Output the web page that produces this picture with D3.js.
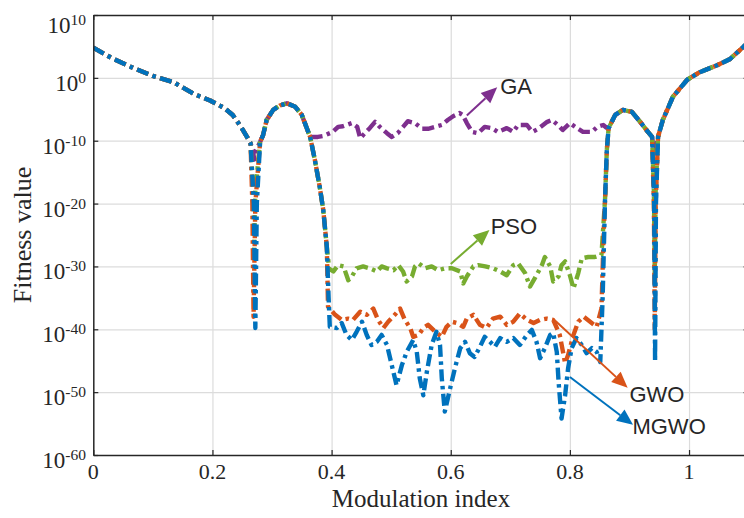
<!DOCTYPE html>
<html>
<head>
<meta charset="utf-8">
<script src="https://cdn.jsdelivr.net/npm/d3@7"></script>
<style>
  body { margin: 0; background: #fff; }
  svg { display: block; }
</style>
</head>
<body>
<svg id="chart" width="744" height="518"></svg>
<script>
// ---- axis ticks ----
const xTicks = [0, 0.2, 0.4, 0.6, 0.8, 1];
const xTickLabels = ["0", "0.2", "0.4", "0.6", "0.8", "1"];
const yTickExponents = [10, 0, -10, -20, -30, -40, -50, -60];

// ---- curve segments: [modulation index, log10(fitness value)] ----
// shared by every algorithm
const envelopeStart = [[0, 4.8], [0.03, 3.2], [0.067, 1.57], [0.1, 0.3], [0.134, -0.66], [0.17, -2.6],
  [0.196, -3.6], [0.22, -4.8], [0.234, -5.9], [0.248, -7.8], [0.258, -9.4], [0.264, -10.4]];
const lobe1 = [[0.280, -10.2], [0.285, -9.1], [0.291, -6.7], [0.302, -5.1], [0.313, -4.4], [0.325, -4.05],
  [0.339, -4.6], [0.350, -5.9], [0.364, -9.4]];
const wallLeft = [[0.372, -13.1], [0.380, -17.3], [0.386, -21.0], [0.392, -26.9]];
const wallRight = [[0.859, -19.4], [0.862, -11.5]];
const lobe2 = [[0.865, -8.0], [0.876, -5.9], [0.889, -5.1], [0.904, -5.4], [0.918, -7.0], [0.931, -8.6], [0.938, -9.4]];
const tail = [[0.948, -9.4], [0.956, -6.7], [0.973, -3.0], [0.997, -0.3], [1.018, 0.9], [1.047, 2.0],
  [1.069, 3.0], [1.092, 5.0], [1.1, 5.7]];

// GA
const gaNull1 = [[0.268, -11.5], [0.270, -13], [0.273, -11.5]];
const gaMid = [[0.377, -9.4], [0.386, -9.25], [0.402, -8.6], [0.411, -7.8], [0.419, -7.7], [0.434, -7.2],
  [0.443, -7.8], [0.448, -9.6], [0.456, -8.8], [0.464, -8.0], [0.473, -7.0], [0.481, -7.8], [0.493, -8.8],
  [0.501, -9.4], [0.511, -8.8], [0.520, -7.8], [0.528, -6.9], [0.540, -7.2], [0.552, -8.1], [0.562, -8.1],
  [0.574, -7.8], [0.585, -7.5], [0.595, -6.7], [0.604, -6.1], [0.615, -5.6], [0.620, -5.9], [0.627, -7.2],
  [0.636, -8.6], [0.646, -8.8], [0.657, -7.8], [0.669, -8.0], [0.679, -8.6], [0.694, -8.0], [0.705, -8.6],
  [0.713, -7.5], [0.728, -7.5], [0.737, -8.6], [0.747, -8.1], [0.762, -7.0], [0.770, -6.7], [0.780, -7.5],
  [0.788, -8.3], [0.800, -7.2], [0.812, -8.0], [0.822, -8.6], [0.837, -8.6], [0.846, -7.8], [0.856, -7.5],
  [0.861, -7.9]];
const gaNull2 = [[0.940, -11], [0.9425, -12.5], [0.945, -11]];

// PSO
const psoNull1 = [[0.268, -18], [0.270, -28], [0.272, -18]];
const psoMid = [[0.396, -30.4], [0.403, -30.8], [0.411, -29.8], [0.420, -30.0], [0.428, -32.2], [0.434, -31.6],
  [0.442, -30.3], [0.453, -30.0], [0.464, -30.3], [0.476, -30.8], [0.484, -30.0], [0.493, -30.3], [0.504, -30.6],
  [0.512, -29.8], [0.520, -30.8], [0.526, -32.4], [0.535, -31.6], [0.540, -30.0], [0.546, -29.5], [0.557, -30.3],
  [0.568, -30.0], [0.579, -30.6], [0.590, -30.3], [0.602, -30.3], [0.616, -30.8], [0.621, -32.7], [0.627, -31.6],
  [0.638, -30.0], [0.646, -29.8], [0.658, -30.0], [0.671, -30.3], [0.683, -30.8], [0.694, -31.4], [0.705, -29.8],
  [0.713, -29.5], [0.725, -31.1], [0.733, -33.2], [0.741, -31.9], [0.753, -29.8], [0.758, -28.5], [0.767, -30.0],
  [0.772, -32.4], [0.781, -31.6], [0.786, -29.8], [0.792, -29.2], [0.800, -31.4], [0.806, -33.5], [0.814, -31.1],
  [0.820, -28.7], [0.831, -28.5], [0.842, -28.5], [0.853, -28.2]];
const psoNull2 = [[0.941, -18], [0.9425, -31], [0.944, -18]];

// GWO
const gwoNull1 = [[0.267, -20], [0.269, -38], [0.272, -20]];
const gwoMid = [[0.394, -36.4], [0.406, -37.7], [0.417, -38.5], [0.428, -38.3], [0.436, -38.5], [0.448, -37.2],
  [0.459, -37.7], [0.470, -36.7], [0.478, -38.5], [0.487, -39.8], [0.495, -38.8], [0.506, -37.7], [0.515, -36.7],
  [0.523, -38.5], [0.532, -39.8], [0.537, -41.2], [0.546, -40.9], [0.554, -39.8], [0.562, -39.3], [0.574, -40.4],
  [0.585, -41.2], [0.593, -39.6], [0.602, -38.8], [0.610, -39.0], [0.621, -39.6], [0.627, -38.3], [0.638, -37.7],
  [0.649, -39.3], [0.660, -39.8], [0.671, -38.3], [0.683, -38.0], [0.694, -39.3], [0.705, -38.8], [0.716, -37.5],
  [0.728, -38.5], [0.739, -39.0], [0.750, -38.5], [0.761, -38.3], [0.772, -38.5], [0.783, -40.9], [0.792, -45.4],
  [0.797, -44.1], [0.806, -40.9], [0.814, -38.8], [0.823, -38.0], [0.834, -38.8], [0.845, -39.6], [0.853, -36.7],
  [0.857, -24]];
const gwoNull2 = [[0.941, -20], [0.9425, -40], [0.944, -20]];

// MGWO
const mgwoNull1 = [[0.2695, -20], [0.272, -39.8], [0.2745, -20]];
const mgwoMid = [[0.395, -35], [0.397, -39.6], [0.409, -39.8], [0.417, -39.0], [0.425, -40.9], [0.434, -41.7],
  [0.442, -40.4], [0.451, -38.8], [0.459, -40.9], [0.467, -42.5], [0.476, -42.0], [0.484, -40.9], [0.493, -42.5],
  [0.501, -45.7], [0.509, -48.9], [0.518, -45.7], [0.526, -43.6], [0.537, -41.7], [0.543, -43.6], [0.548, -47.8],
  [0.554, -50.5], [0.560, -46.7], [0.568, -42.5], [0.576, -40.4], [0.582, -42.5], [0.585, -47.8], [0.590, -53.1],
  [0.599, -49.4], [0.607, -46.2], [0.616, -43.0], [0.624, -42.0], [0.632, -43.8], [0.640, -44.4], [0.649, -42.8],
  [0.657, -41.2], [0.666, -42.0], [0.674, -42.8], [0.683, -41.4], [0.694, -42.0], [0.705, -41.4], [0.716, -42.5],
  [0.728, -40.9], [0.736, -40.1], [0.744, -42.0], [0.750, -44.6], [0.758, -43.0], [0.767, -40.9], [0.772, -40.6],
  [0.778, -43.6], [0.781, -48.3], [0.786, -54.2], [0.792, -50.5], [0.797, -46.2], [0.803, -43.0], [0.811, -41.4],
  [0.820, -42.5], [0.828, -43.8], [0.837, -43.0], [0.845, -43.6], [0.851, -45.2], [0.855, -35]];
const mgwoNull2 = [[0.9415, -20], [0.943, -45.2], [0.9445, -20]];

// ---- assembled series (drawn bottom to top) ----
const seriesNames = ["GA", "PSO", "GWO", "MGWO"];
const seriesColors = ["#7E2F8E", "#77AC30", "#D95319", "#0072BD"];
const seriesPoints = [
  [...envelopeStart, ...gaNull1, ...lobe1, ...gaMid, ...lobe2, ...gaNull2, ...tail],
  [...envelopeStart, ...psoNull1, ...lobe1, ...wallLeft, ...psoMid, ...wallRight, ...lobe2, ...psoNull2, ...tail],
  [...envelopeStart, ...gwoNull1, ...lobe1, ...wallLeft, ...gwoMid, ...wallRight, ...lobe2, ...gwoNull2, ...tail],
  [...envelopeStart, ...mgwoNull1, ...lobe1, ...wallLeft, ...mgwoMid, ...wallRight, ...lobe2, ...mgwoNull2, ...tail]
];

// ---- annotation labels with arrows: [text, tail x, tail log10 y, tip x, tip log10 y, text x, text log10 y] ----
const annotations = [
  ["GA",   0.627, -6.0,  0.678, -1.5,  0.683, -2.5],
  ["PSO",  0.600, -29.6, 0.665, -24.2, 0.667, -24.8],
  ["GWO",  0.775, -38.6, 0.897, -49.3, 0.900, -51.5],
  ["MGWO", 0.800, -47.6, 0.906, -55.2, 0.905, -56.6]
];

// ---- layout ----
const svg = d3.select("#chart");
const plotL = 93.3, plotR = 748.6, plotT = 15, plotB = 455;
const x = d3.scaleLinear().domain([0, 1.1]).range([plotL, plotR]);
const y = d3.scaleLog().domain([1e-60, 1e10]).range([plotB, plotT]);
const yv = e => y(Math.pow(10, e));

svg.append("defs").append("clipPath").attr("id", "plotArea")
  .append("rect").attr("x", plotL).attr("y", plotT).attr("width", plotR - plotL).attr("height", plotB - plotT);

// grid
const grid = svg.append("g").attr("class", "grid");
grid.append("g").attr("transform", `translate(0,${plotB})`)
  .call(d3.axisBottom(x).tickValues(xTicks.slice(1)).tickSize(-(plotB - plotT)).tickFormat(""))
  .call(g => g.select(".domain").remove())
  .call(g => g.selectAll("line").attr("stroke", "#dcdcdc").attr("stroke-width", 1.2));
grid.append("g").attr("transform", `translate(${plotL},0)`)
  .call(d3.axisLeft(y).tickValues(yTickExponents.slice(1, -1).map(e => Math.pow(10, e))).tickSize(-(plotR - plotL)).tickFormat(""))
  .call(g => g.select(".domain").remove())
  .call(g => g.selectAll("line").attr("stroke", "#dcdcdc").attr("stroke-width", 1.2));

// curves (dash-dot, all in phase)
const line = d3.line().x(d => x(d[0])).y(d => yv(d[1]));
const curves = svg.append("g").attr("clip-path", "url(#plotArea)");
seriesPoints.forEach((pts, i) => {
  curves.append("path")
    .datum(pts)
    .attr("d", line)
    .attr("fill", "none")
    .attr("stroke", seriesColors[i])
    .attr("stroke-width", 4.4)
    .attr("stroke-linejoin", "round")
    .attr("stroke-dasharray", "12,4.5,3.5,4.5");
});

// axes frame with inward ticks
const axisColor = "#262626";
const tickVals = yTickExponents.map(e => Math.pow(10, e));
const styleAxis = g => {
  g.selectAll(".domain").attr("stroke", axisColor).attr("stroke-width", 1.5);
  g.selectAll(".tick line").attr("stroke", axisColor).attr("stroke-width", 1.2);
  g.selectAll(".tick text").remove();
};
svg.append("g").attr("transform", `translate(0,${plotB})`)
  .call(d3.axisBottom(x).tickValues(xTicks).tickSizeInner(-5).tickSizeOuter(0)).call(styleAxis);
svg.append("g").attr("transform", `translate(0,${plotT})`)
  .call(d3.axisTop(x).tickValues(xTicks).tickSizeInner(-5).tickSizeOuter(0)).call(styleAxis);
svg.append("g").attr("transform", `translate(${plotL},0)`)
  .call(d3.axisLeft(y).tickValues(tickVals).tickSizeInner(-5).tickSizeOuter(0)).call(styleAxis);
svg.append("g").attr("transform", `translate(${plotR},0)`)
  .call(d3.axisRight(y).tickValues(tickVals).tickSizeInner(-5).tickSizeOuter(0)).call(styleAxis);

// tick labels
const serif = "'Liberation Serif', 'Times New Roman', serif";
svg.append("g").selectAll("text").data(xTicks).join("text")
  .attr("x", d => x(d)).attr("y", plotB + 24)
  .attr("text-anchor", "middle")
  .attr("font-family", serif).attr("font-size", 22).attr("fill", "#262626")
  .text((d, i) => xTickLabels[i]);

const yLabels = svg.append("g").selectAll("text").data(yTickExponents).join("text")
  .attr("x", 86).attr("y", e => yv(e) + 13 + (e === 10 ? 5 : 0))
  .attr("text-anchor", "end")
  .attr("font-family", serif).attr("font-size", 23).attr("fill", "#262626");
yLabels.append("tspan").text("10");
yLabels.append("tspan").attr("dy", -8).attr("font-size", 15.5).text(e => String(e));

// axis titles
svg.append("text")
  .attr("x", (plotL + plotR) / 2).attr("y", 507)
  .attr("text-anchor", "middle")
  .attr("font-family", serif).attr("font-size", 25).attr("fill", "#262626")
  .text("Modulation index");
svg.append("text")
  .attr("transform", `translate(31,${(plotT + plotB) / 2}) rotate(-90)`)
  .attr("text-anchor", "middle")
  .attr("font-family", serif).attr("font-size", 26).attr("fill", "#262626")
  .text("Fitness value");

// annotations
const ann = svg.append("g");
annotations.forEach((a, i) => {
  const [label, x0, e0, x1, e1, tx, te] = a;
  const px0 = x(x0), py0 = yv(e0), px1 = x(x1), py1 = yv(e1);
  const ang = Math.atan2(py1 - py0, px1 - px0);
  const headLen = 16, headHalf = 7;
  const bx = px1 - headLen * Math.cos(ang), by = py1 - headLen * Math.sin(ang);
  ann.append("line")
    .attr("x1", px0).attr("y1", py0).attr("x2", bx).attr("y2", by)
    .attr("stroke", seriesColors[i]).attr("stroke-width", 2);
  ann.append("path")
    .attr("d", `M${px1},${py1}L${bx - headHalf * Math.sin(ang)},${by + headHalf * Math.cos(ang)}L${bx + headHalf * Math.sin(ang)},${by - headHalf * Math.cos(ang)}Z`)
    .attr("fill", seriesColors[i]);
  ann.append("text")
    .attr("x", x(tx)).attr("y", yv(te))
    .attr("font-family", "'Liberation Sans', Arial, sans-serif").attr("font-size", 22)
    .attr("fill", "#262626")
    .text(label);
});
</script>
</body>
</html>
